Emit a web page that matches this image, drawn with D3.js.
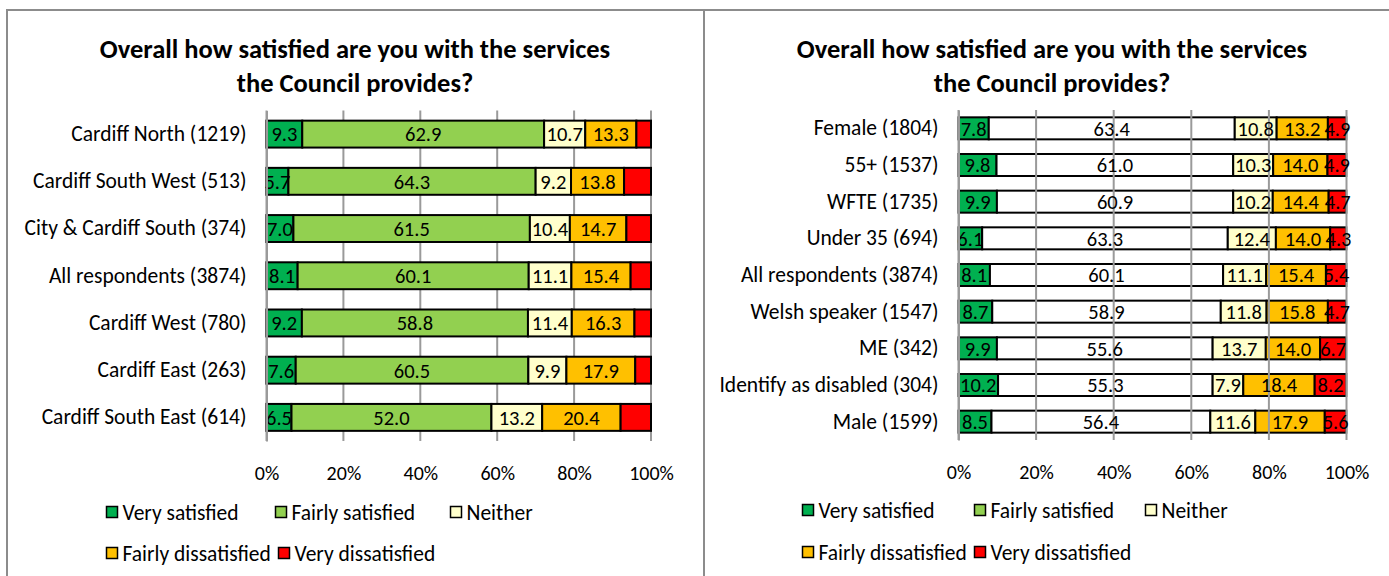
<!DOCTYPE html>
<html>
<head>
<meta charset="utf-8">
<script src="https://cdn.jsdelivr.net/npm/d3@7"></script>
<style>
  html, body { margin: 0; padding: 0; background: #fff; }
  svg { display: block; }
  text { font-family: Carlito, Calibri, Lato, "Open Sans", sans-serif; fill: #000; }
</style>
</head>
<body>
<svg id="chart" width="1389" height="576"></svg>
<script>
// ---------------- DATA ----------------
const seriesNames = ["Very satisfied", "Fairly satisfied", "Neither", "Fairly dissatisfied", "Very dissatisfied"];
const seriesColors = ["#00B050", "#92D050", "#FFFFCC", "#FFC000", "#FF0000"];
const tickValues = [0, 20, 40, 60, 80, 100];
const titleLines = ["Overall how satisfied are you with the services", "the Council provides?"];

// Left chart: by area
const areaCategories = ["Cardiff North (1219)", "Cardiff South West (513)", "City & Cardiff South (374)",
  "All respondents (3874)", "Cardiff West (780)", "Cardiff East (263)", "Cardiff South East (614)"];
const areaVerySatisfied    = [9.3, 5.7, 7.0, 8.1, 9.2, 7.6, 6.5];
const areaFairlySatisfied  = [62.9, 64.3, 61.5, 60.1, 58.8, 60.5, 52.0];
const areaNeither          = [10.7, 9.2, 10.4, 11.1, 11.4, 9.9, 13.2];
const areaFairlyDissat     = [13.3, 13.8, 14.7, 15.4, 16.3, 17.9, 20.4];
const areaVeryDissat       = [3.8, 7.0, 6.4, 5.4, 4.3, 4.1, 7.9];

// Right chart: by demographic group
const groupCategories = ["Female (1804)", "55+ (1537)", "WFTE (1735)", "Under 35 (694)",
  "All respondents (3874)", "Welsh speaker (1547)", "ME (342)", "Identify as disabled (304)", "Male (1599)"];
const groupVerySatisfied   = [7.8, 9.8, 9.9, 6.1, 8.1, 8.7, 9.9, 10.2, 8.5];
const groupFairlySatisfied = [63.4, 61.0, 60.9, 63.3, 60.1, 58.9, 55.6, 55.3, 56.4];
const groupNeither         = [10.8, 10.3, 10.2, 12.4, 11.1, 11.8, 13.7, 7.9, 11.6];
const groupFairlyDissat    = [13.2, 14.0, 14.4, 14.0, 15.4, 15.8, 14.0, 18.4, 17.9];
const groupVeryDissat      = [4.9, 4.9, 4.7, 4.3, 5.4, 4.7, 6.7, 8.2, 5.6];

// ---------------- DRAW ----------------
const svg = d3.select("#chart");
const fontFam = "Carlito, Calibri, Lato, 'Open Sans', sans-serif";

// panel borders
svg.append("path")
  .attr("d", "M7,576 V10 H1389 M704,10 V576")
  .attr("fill", "none").attr("stroke", "#8c8c8c").attr("stroke-width", 2);

function drawChart(cfg) {
  const g = svg.append("g");
  const rows = cfg.categories.map((c, i) => ({
    cat: c,
    vals: cfg.series.map(s => s[i])
  }));

  const x = d3.scaleLinear().domain([0, 100]).range([cfg.x0, cfg.x1]);
  const y = d3.scaleBand().domain(cfg.categories).range([cfg.y0, cfg.y1]).paddingInner(cfg.pad).paddingOuter(cfg.pad / 2);

  // title
  g.append("text").attr("x", cfg.titleX).attr("y", 49).attr("dy", "0.35em")
    .attr("text-anchor", "middle").attr("font-size", 26.5).attr("font-weight", "bold")
    .text(titleLines[0]);
  g.append("text").attr("x", cfg.titleX).attr("y", 83).attr("dy", "0.35em")
    .attr("text-anchor", "middle").attr("font-size", 26.5).attr("font-weight", "bold")
    .text(titleLines[1]);

  const gridG = g.append("g");
  function drawGrid() {
    gridG.selectAll("line").data(tickValues).join("line")
      .attr("x1", d => x(d)).attr("x2", d => x(d))
      .attr("y1", cfg.y0).attr("y2", cfg.y1)
      .attr("stroke", "#9a9a9a").attr("stroke-width", 2);
  }
  if (!cfg.gridOnTop) drawGrid();

  // stacked bars
  const stackData = rows.map(r => {
    let acc = 0;
    return r.vals.map((v, j) => {
      const seg = { cat: r.cat, j, v, start: acc, end: acc + v };
      acc += v;
      return seg;
    });
  }).flat();

  const clipId = "clip" + cfg.id;
  g.append("clipPath").attr("id", clipId).append("rect")
    .attr("x", cfg.x0 - 2).attr("y", cfg.y0).attr("width", cfg.x1 - cfg.x0 + 3).attr("height", cfg.y1 - cfg.y0);

  g.append("g").attr("clip-path", `url(#${clipId})`)
    .selectAll("rect").data(stackData).join("rect")
    .attr("x", d => x(d.start))
    .attr("y", d => y(d.cat))
    .attr("width", d => Math.min(x(d.end), cfg.x1) - x(d.start))
    .attr("height", y.bandwidth())
    .attr("fill", d => cfg.fills[d.j])
    .attr("stroke", "#000").attr("stroke-width", 2);

  if (cfg.gridOnTop) {
    gridG.raise();
    drawGrid();
  }

  // data labels
  g.append("g").selectAll("text").data(stackData.filter(d => cfg.labelSeries.includes(d.j))).join("text")
    .attr("x", d => x((d.start + d.end) / 2))
    .attr("y", d => y(d.cat) + y.bandwidth() / 2)
    .attr("dy", "0.36em")
    .attr("text-anchor", "middle")
    .attr("font-size", 20.5)
    .text(d => d3.format(".1f")(d.v));

  // y axis
  const yAxis = g.append("g").attr("transform", `translate(${cfg.x0},0)`)
    .call(d3.axisLeft(y).tickSize(0).tickPadding(20));
  yAxis.select(".domain").attr("stroke", "#9a9a9a").attr("stroke-width", 2);
  yAxis.selectAll("text").attr("font-size", 21.5).attr("font-family", fontFam).attr("fill", "#000");

  // x axis labels
  const xAxis = g.append("g").attr("transform", `translate(0,${cfg.y1})`)
    .call(d3.axisBottom(x).tickValues(tickValues).tickSize(0).tickPadding(25).tickFormat(d => d + "%"));
  xAxis.select(".domain").remove();
  xAxis.selectAll("text").attr("font-size", 20).attr("font-family", fontFam).attr("fill", "#000");

  // legend
  const lg = g.append("g");
  const items = lg.selectAll("g").data(seriesNames).join("g")
    .attr("transform", (d, i) => `translate(${cfg.legendPos[i][0]},${cfg.legendPos[i][1]})`);
  items.append("rect").attr("x", 0).attr("y", -5.5).attr("width", 11).attr("height", 11)
    .attr("fill", (d, i) => seriesColors[i]).attr("stroke", "#000").attr("stroke-width", 1.5);
  items.append("text").attr("x", 16).attr("y", 0).attr("dy", "0.35em")
    .attr("font-size", 21.5).text(d => d);
}

drawChart({
  id: "L",
  categories: areaCategories,
  series: [areaVerySatisfied, areaFairlySatisfied, areaNeither, areaFairlyDissat, areaVeryDissat],
  fills: seriesColors,
  x0: 266.5, x1: 651, y0: 110.5, y1: 441,
  pad: 0.43,
  titleX: 355,
  gridOnTop: false,
  labelSeries: [0, 1, 2, 3],
  legendPos: [[106.5, 512], [275.5, 512], [450.5, 512], [106.5, 553], [278.5, 553]]
});

drawChart({
  id: "R",
  categories: groupCategories,
  series: [groupVerySatisfied, groupFairlySatisfied, groupNeither, groupFairlyDissat, groupVeryDissat],
  fills: [seriesColors[0], "#FFFFFF", seriesColors[2], seriesColors[3], seriesColors[4]],
  x0: 958.5, x1: 1346.5, y0: 110, y1: 440,
  pad: 0.4,
  titleX: 1052,
  gridOnTop: true,
  labelSeries: [0, 1, 2, 3, 4],
  legendPos: [[802.5, 510], [974.5, 510], [1145.5, 510], [802.5, 552], [974.5, 552]]
});
</script>
</body>
</html>
